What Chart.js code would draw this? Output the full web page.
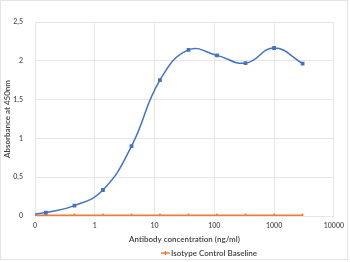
<!DOCTYPE html>
<html>
<head>
<meta charset="utf-8">
<script src="https://cdn.jsdelivr.net/npm/chart.js@4/dist/chart.umd.min.js"></script>
<style>
  body { margin: 0; background: #fff; }
  #wrap { width: 350px; height: 262px; }
</style>
</head>
<body>
<div id="wrap"><canvas id="myChart" width="350" height="262"></canvas></div>
<script>
// concentrations (ng/ml), 3-fold dilution series
var concentrations = [0.1, 0.152, 0.457, 1.37, 4.12, 12.3, 37, 111, 333, 1000, 3000];
var antibodyValues = [0.026, 0.044, 0.134, 0.335, 0.90, 1.75, 2.14, 2.07, 1.97, 2.165, 1.965];
var isotypeValues = [0.008, 0.008, 0.008, 0.008, 0.008, 0.008, 0.008, 0.008, 0.008, 0.008, 0.008];
var xTicks = [0.1, 1, 10, 100, 1000, 10000];
var yTicks = [0, 0.5, 1, 1.5, 2, 2.5];

var txt = '#505050';
var tickFont = { family: 'Lato', size: 7, weight: '600' };
var titleFont = { family: 'Lato', size: 8, weight: '600' };

function pts(ys) {
    return concentrations.map(function (c, i) { return { x: c, y: ys[i] }; });
}

// no marker on the first (edge) point
var radii = concentrations.map(function (c, i) { return i == 0 ? 0 : 1.6; });
var radii2 = concentrations.map(function (c, i) { return i == 0 ? 0 : 2; });

var legendPlugin = {
    id: 'ownLegend',
    afterDraw: function (chart) {
        var ctx = chart.ctx;
        ctx.save();
        // faint frame
        ctx.strokeStyle = '#e4e4e4';
        ctx.lineWidth = 1;
        ctx.strokeRect(0.5, 0.5, 347, 259);
        // legend entry
        ctx.strokeStyle = '#ed7d31';
        ctx.lineWidth = 1.5;
        ctx.beginPath();
        ctx.moveTo(161, 253);
        ctx.lineTo(170, 253);
        ctx.stroke();
        ctx.beginPath();
        ctx.moveTo(165.5, 251);
        ctx.lineTo(165.5, 255);
        ctx.stroke();
        ctx.fillStyle = '#404040';
        ctx.font = '600 8px Lato';
        ctx.textBaseline = 'middle';
        ctx.fillText('Isotype Control Baseline', 171, 253.5);
        ctx.restore();
    }
};

var ctx = document.getElementById('myChart').getContext('2d');
var chart = new Chart(ctx, {
    type: 'line',
    data: {
        datasets: [{
            label: 'Antibody',
            data: pts(antibodyValues),
            borderColor: '#4472c4',
            backgroundColor: '#4472c4',
            borderWidth: 1.5,
            pointRadius: radii,
            pointStyle: 'rect',
            tension: 0.45
        }, {
            label: 'Isotype Control Baseline',
            data: pts(isotypeValues),
            borderColor: '#ed7d31',
            backgroundColor: '#ed7d31',
            borderWidth: 2,
            pointRadius: radii2,
            pointStyle: 'line',
            rotation: 90,
            pointBorderWidth: 1.5,
            tension: 0
        }]
    },
    options: {
        responsive: false,
        animation: false,
        layout: { padding: { top: 22, right: 15, bottom: 18, left: 0 } },
        plugins: {
            legend: { display: false },
            tooltip: { enabled: false }
        },
        scales: {
            x: {
                type: 'logarithmic',
                min: 0.1,
                max: 10000,
                afterBuildTicks: function (scale) {
                    scale.ticks = xTicks.map(function (v) { return { value: v }; });
                },
                afterFit: function (scale) { scale.height = 28; },
                grid: { color: '#e6e6e6', drawTicks: false },
                border: { display: false },
                ticks: {
                    color: txt,
                    font: tickFont,
                    padding: 6,
                    maxRotation: 0,
                    autoSkip: false,
                    callback: function (v) { return v == 0.1 ? '0' : String(v); }
                },
                title: {
                    display: true,
                    text: 'Antibody concentration (ng/ml)',
                    color: '#404040',
                    font: titleFont,
                    padding: 0
                }
            },
            y: {
                min: 0,
                max: 2.5,
                afterBuildTicks: function (scale) {
                    scale.ticks = yTicks.map(function (v) { return { value: v }; });
                },
                afterFit: function (scale) { scale.width = 35; },
                grid: { color: '#e6e6e6', drawTicks: false },
                border: { display: false },
                ticks: {
                    color: txt,
                    font: tickFont,
                    padding: 12,
                    callback: function (v) { return String(v).replace('.', ','); }
                },
                title: {
                    display: true,
                    text: 'Absorbance at 450nm',
                    color: '#404040',
                    font: titleFont,
                    padding: 3
                }
            }
        }
    },
    plugins: [legendPlugin]
});
</script>
</body>
</html>
